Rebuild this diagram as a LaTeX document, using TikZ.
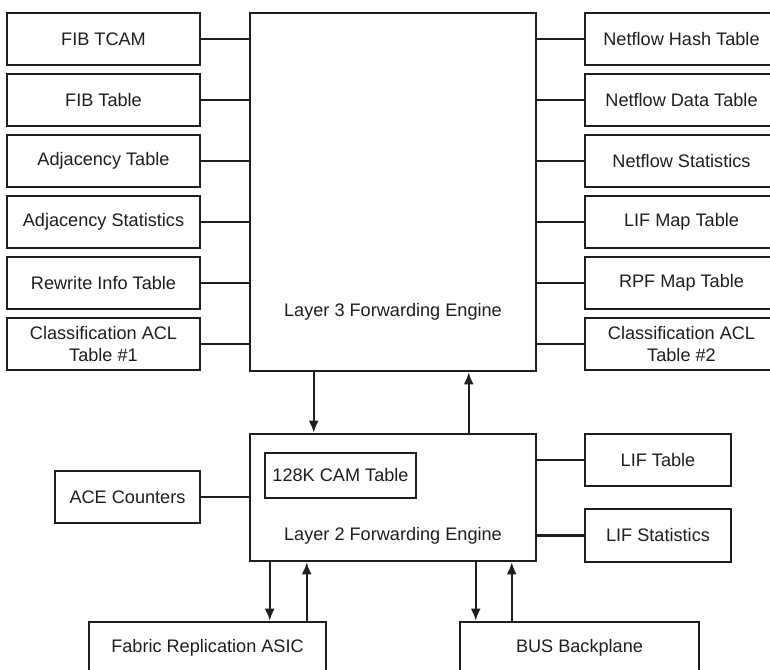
\documentclass[tikz,border=0pt]{standalone}
\usepackage{fontspec}
\setmainfont{Liberation Sans}
\usetikzlibrary{arrows.meta}
\definecolor{ink}{HTML}{1E1E1E}
\begin{document}
\begin{tikzpicture}[x=0.75pt,y=-0.75pt,
  box/.style={draw=ink,line width=1.9pt,fill=white,inner sep=0pt,align=center,
    font=\fontsize{13.6pt}{16.5pt}\selectfont,text=ink},
  sbox/.style={box,minimum width=144.75pt,minimum height=39pt},
  link/.style={draw=ink,line width=1.7pt},
  arr/.style={draw=ink,line width=1.7pt,-{Latex[length=9pt,width=7.5pt]}}]
\clip (0,0) rectangle (770,670);
\fill[white] (0,0) rectangle (770,670);
% Layer 3 engine
\node[box,minimum width=214.5pt,minimum height=268.5pt,
  label={[yshift=-90pt,font=\fontsize{13.6pt}{16.5pt}\selectfont,text=ink]center:Layer 3 Forwarding Engine}]
  (l3) at (393,192) {};
% left tables
\node[sbox] (fibtcam) at (103.5,39) {FIB TCAM};
\node[sbox] (fibtab) at (103.5,100) {FIB Table};
\node[sbox] (adjtab) at (103.5,161) {Adjacency Table};
\node[sbox] (adjstat) at (103.5,222) {Adjacency Statistics};
\node[sbox] (rewrite) at (103.5,283) {Rewrite Info Table};
\node[sbox] (acl1) at (103.5,344) {Classification ACL\\Table \#1};
% right tables
\node[sbox] (nfhash) at (681.5,39) {Netflow Hash Table};
\node[sbox] (nfdata) at (681.5,100) {Netflow Data Table};
\node[sbox] (nfstat) at (681.5,161) {Netflow Statistics};
\node[sbox] (lifmap) at (681.5,222) {LIF Map Table};
\node[sbox] (rpfmap) at (681.5,283) {RPF Map Table};
\node[sbox] (acl2) at (681.5,344) {Classification ACL\\Table \#2};
\foreach \n in {fibtcam,fibtab,adjtab,adjstat,rewrite,acl1}
  \draw[link] (\n.east) -- (\n.east -| l3.west);
\foreach \n in {nfhash,nfdata,nfstat,lifmap,rpfmap,acl2}
  \draw[link] (\n.west) -- (\n.west -| l3.east);
% Layer 2 engine
\node[box,minimum width=214.5pt,minimum height=95.25pt,
  label={[yshift=-28.9pt,font=\fontsize{13.6pt}{16.5pt}\selectfont,text=ink]center:Layer 2 Forwarding Engine}]
  (l2) at (393,497.5) {};
\node[box,minimum width=113.25pt,minimum height=33.75pt] (cam) at (340.5,475.5) {128K CAM Table};
\node[box,minimum width=108.75pt,minimum height=39pt] (ace) at (127.5,497) {ACE Counters};
\node[box,minimum width=109.5pt,minimum height=39pt] (liftab) at (658,460) {LIF Table};
\node[box,minimum width=109.5pt,minimum height=39.75pt] (lifstat) at (658,535.5) {LIF Statistics};
\draw[link] (ace.east) -- (ace.east -| l2.west);
\draw[link] (liftab.west) -- (liftab.west -| l2.east);
\draw[link] (lifstat.west) -- (lifstat.west -| l2.east);
% L3 <-> L2
\draw[arr] ([xshift=48.75pt]l3.south west) -- ([xshift=48.75pt]l2.north west);
\draw[arr] ([xshift=165pt]l2.north west) -- ([xshift=165pt]l3.south west);
% bottom boxes
\node[box,minimum width=177.75pt,minimum height=39pt] (fabric) at (207.5,648) {Fabric Replication ASIC};
\node[box,minimum width=179.25pt,minimum height=39pt] (bus) at (579.5,648) {BUS Backplane};
\draw[arr] ([xshift=15.75pt]l2.south west) -- ([xshift=15.75pt]l2.south west |- fabric.north);
\draw[arr] ([xshift=43.5pt]l2.south west |- fabric.north) -- ([xshift=43.5pt]l2.south west);
\draw[arr] ([xshift=170.25pt]l2.south west) -- ([xshift=170.25pt]l2.south west |- bus.north);
\draw[arr] ([xshift=197.25pt]l2.south west |- bus.north) -- ([xshift=197.25pt]l2.south west);
\end{tikzpicture}
\end{document}
